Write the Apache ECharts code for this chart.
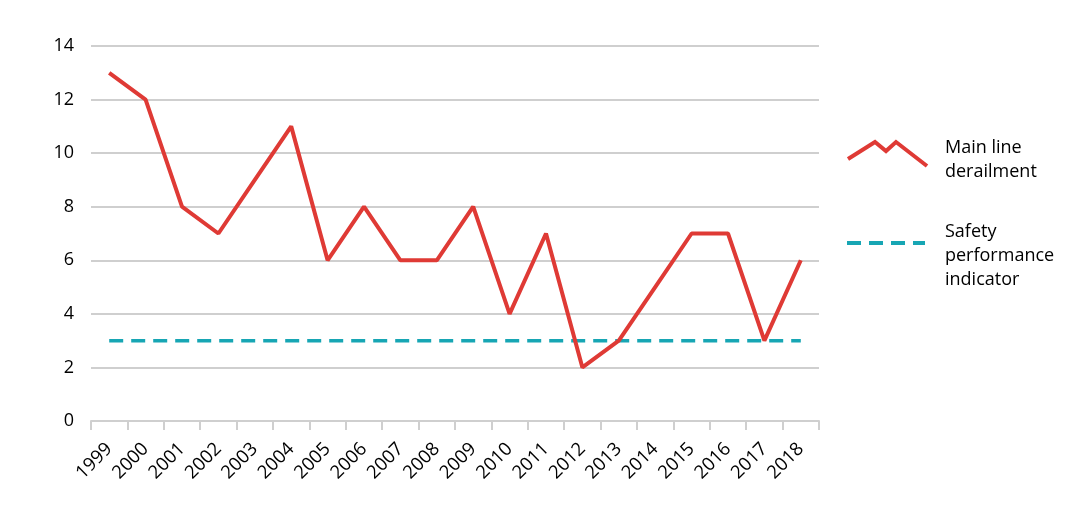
<!DOCTYPE html>
<html>
<head>
<meta charset="utf-8">
<style>html,body{margin:0;padding:0;background:#fff}#c{width:1078px;height:510px}</style>
<script src="https://cdn.jsdelivr.net/npm/echarts@6/dist/echarts.min.js"></script>
</head>
<body>
<div id="c"></div>
<script>
const years = ['1999','2000','2001','2002','2003','2004','2005','2006','2007','2008','2009','2010','2011','2012','2013','2014','2015','2016','2017','2018'];
const derailments = [13,12,8,7,9,11,6,8,6,6,8,4,7,2,3,5,7,7,3,6];
const indicator = [3,3,3,3,3,3,3,3,3,3,3,3,3,3,3,3,3,3,3,3];
const seriesNames = ['Main line\nderailment','Safety\nperformance\nindicator'];
const yTicks = {min:0, max:14, interval:2};

const RED = '#df3a35', TEAL = '#17a6b4', FONT = '"Open Sans", "Noto Sans", sans-serif';
const chart = echarts.init(document.getElementById('c'));
chart.setOption({
  animation:false,
  grid:{left:91, right:259, top:46, bottom:89},
  xAxis:{type:'category', data:years, boundaryGap:true,
    axisLine:{lineStyle:{color:'#cfcfcf', width:2}},
    axisTick:{show:true, length:9, lineStyle:{color:'#cfcfcf', width:2}},
    axisLabel:{rotate:45, color:'#000', fontSize:18.5, fontFamily:FONT, margin:25, interval:0}},
  yAxis:{type:'value', min:yTicks.min, max:yTicks.max, interval:yTicks.interval,
    axisLine:{show:false}, axisTick:{show:false},
    splitLine:{lineStyle:{color:'#cfcfcf', width:2}},
    axisLabel:{color:'#000', fontSize:18, fontFamily:FONT, margin:17}},
  series:[
    {name:seriesNames[0], type:'line', data:derailments, symbol:'none', z:3,
      lineStyle:{color:RED, width:4}},
    {name:seriesNames[1], type:'line', data:indicator, symbol:'none', z:2,
      lineStyle:{color:TEAL, width:3.5, type:[14,8]}}
  ],
  graphic:[
    {type:'polyline', shape:{points:[[848,159],[875,142],[886,151],[896,142],[927,166]]},
      style:{stroke:RED, lineWidth:4, fill:null}},
    {type:'line', shape:{x1:847, y1:243, x2:925, y2:243},
      style:{stroke:TEAL, lineWidth:4, lineDash:[14,8]}},
    {type:'text', left:945, top:136, style:{text:seriesNames[0], fill:'#000', font:'18px '+FONT, lineHeight:24}},
    {type:'text', left:945, top:220, style:{text:seriesNames[1], fill:'#000', font:'18px '+FONT, lineHeight:24}}
  ]
});
</script>
</body>
</html>
